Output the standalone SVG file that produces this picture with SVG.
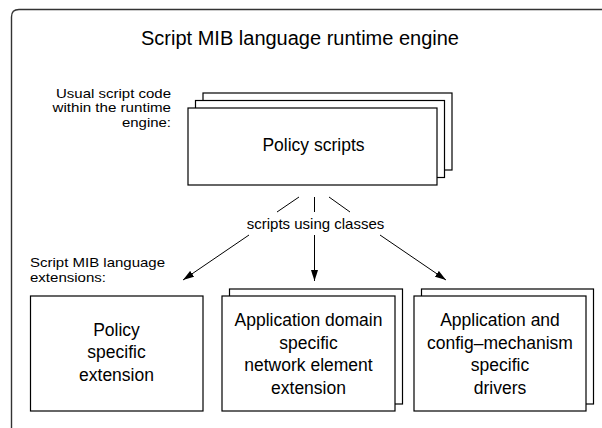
<svg xmlns="http://www.w3.org/2000/svg" width="602" height="428" viewBox="0 0 602 428">
<style>
.box{fill:#fff;stroke:#000;stroke-width:1.2}
.t{font-family:"Liberation Sans",Arial,sans-serif;fill:#000}
.lbl{font-size:13.2px}
.c{stroke:#000;stroke-width:1;fill:none}
</style>
<defs>
<marker id="ah" viewBox="0 0 11 8" refX="11" refY="4" markerWidth="11" markerHeight="8" markerUnits="userSpaceOnUse" orient="auto">
<path d="M0,0.5 L11,4 L0,7.5 z" fill="#000"/>
</marker>
</defs>
<rect width="602" height="428" fill="#fff"/>
<g id="frame">
<path d="M11.5,432 L11.5,17 Q11.5,9.5 19,9.5 L610,9.5" fill="none" stroke="#333" stroke-width="1.4"/>
<text class="t" x="300" y="44.5" font-size="20" text-anchor="middle">Script MIB language runtime engine</text>
</g>
<g id="label-usual">
<text class="t lbl" x="171" y="97.5" text-anchor="end" textLength="115" lengthAdjust="spacingAndGlyphs">Usual script code</text>
<text class="t lbl" x="171" y="112.3" text-anchor="end" textLength="118.5" lengthAdjust="spacingAndGlyphs">within the runtime</text>
<text class="t lbl" x="171" y="127.1" text-anchor="end" textLength="49" lengthAdjust="spacingAndGlyphs">engine:</text>
</g>
<g id="label-ext">
<text class="t lbl" x="30" y="266.8" textLength="135" lengthAdjust="spacingAndGlyphs">Script MIB language</text>
<text class="t lbl" x="30" y="281.6" textLength="76" lengthAdjust="spacingAndGlyphs">extensions:</text>
</g>
<g id="policy-scripts">
<rect class="box" x="203" y="93" width="249" height="77"/>
<rect class="box" x="195.5" y="100.5" width="249" height="77"/>
<rect class="box" x="188" y="108" width="249" height="77"/>
<text class="t" x="313.5" y="150.5" font-size="17.5" text-anchor="middle">Policy scripts</text>
</g>
<g id="policy-ext">
<rect class="box" x="30.5" y="296" width="172.5" height="115"/>
<text class="t" font-size="17.5" text-anchor="middle"><tspan x="116.5" y="335.5">Policy</tspan><tspan x="116.5" y="358">specific</tspan><tspan x="116.5" y="380.5">extension</tspan></text>
</g>
<g id="app-domain">
<rect class="box" x="229.5" y="289" width="173" height="115"/>
<rect class="box" x="222" y="296" width="173" height="115"/>
<text class="t" font-size="17.5" text-anchor="middle"><tspan x="308.5" y="326">Application domain</tspan><tspan x="308.5" y="348.5">specific</tspan><tspan x="308.5" y="371">network element</tspan><tspan x="308.5" y="393.5">extension</tspan></text>
</g>
<g id="app-config">
<rect class="box" x="421.5" y="289" width="172" height="115"/>
<rect class="box" x="414" y="296" width="172" height="115"/>
<text class="t" font-size="17.5" text-anchor="middle"><tspan x="500" y="326">Application and</tspan><tspan x="500" y="348.5">config–mechanism</tspan><tspan x="500" y="371">specific</tspan><tspan x="500" y="393.5">drivers</tspan></text>
</g>
<g id="connectors">
<line class="c" x1="299" y1="197" x2="277" y2="212"/>
<line class="c" x1="314.5" y1="197" x2="314.5" y2="212"/>
<line class="c" x1="329" y1="197" x2="350" y2="212"/>
<text class="t" x="315.5" y="229" font-size="15" text-anchor="middle">scripts using classes</text>
<line class="c" x1="249" y1="235" x2="183" y2="280" marker-end="url(#ah)"/>
<line class="c" x1="314.5" y1="235" x2="314.5" y2="281" marker-end="url(#ah)"/>
<line class="c" x1="380" y1="235" x2="446" y2="280" marker-end="url(#ah)"/>
</g>
</svg>
